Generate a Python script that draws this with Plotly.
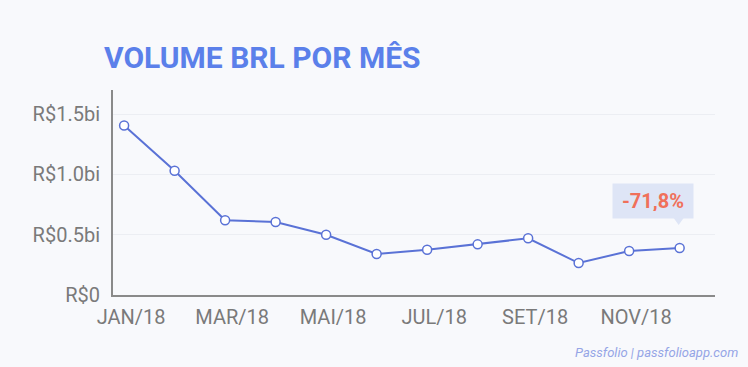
import plotly.graph_objects as go

months = ["JAN/18", "FEV/18", "MAR/18", "ABR/18", "MAI/18", "JUN/18",
          "JUL/18", "AGO/18", "SET/18", "OUT/18", "NOV/18", "DEZ/18"]
volume_bi = [1.405, 1.03, 0.62, 0.605, 0.50, 0.34, 0.375, 0.42, 0.47, 0.265, 0.365, 0.39]
y_tick_vals = [0, 0.5, 1.0, 1.5]
y_tick_text = ["R$0", "R$0.5bi", "R$1.0bi", "R$1.5bi"]
x_tick_idx = [0, 2, 4, 6, 8, 10]
change_label = "-71,8%"
title_text = "VOLUME BRL POR MÊS"
footer_text = "Passfolio | passfolioapp.com"

bg = "#F8F9FC"
xs = list(range(len(months)))

fig = go.Figure()
fig.add_trace(go.Scatter(
    x=xs, y=volume_bi, mode="lines+markers",
    line=dict(color="#5A72D6", width=2),
    marker=dict(size=9, color="white", line=dict(color="#5A72D6", width=1.5)),
    hoverinfo="skip", showlegend=False,
))

fig.update_layout(
    width=748, height=367,
    paper_bgcolor=bg, plot_bgcolor=bg,
    margin=dict(l=113, r=33, t=90, b=72),
    font=dict(family="Roboto", color="#777777", size=20),
    title=dict(text=title_text, x=104 / 748, xanchor="left", xref="container",
               y=1 - 57 / 367, yanchor="middle", yref="container",
               font=dict(family="Roboto", size=30, color="#5B80EA", weight="bold")),
    xaxis=dict(range=[-0.22, 11.7], tickvals=[xs[i] for i in x_tick_idx],
               ticktext=[months[i] for i in x_tick_idx],
               showgrid=False, zeroline=False, showline=True, linecolor="#8A8A8A",
               linewidth=2, ticks="", ticklabelshift=7, ticklabelstandoff=3,
               tickfont=dict(size=20, color="#7A7A7A")),
    yaxis=dict(range=[0, 1.70], tickvals=y_tick_vals, ticktext=y_tick_text,
               showgrid=True, gridcolor="#ECEEF3", gridwidth=1, zeroline=False,
               showline=True, linecolor="#8A8A8A", linewidth=2, ticks="",
               ticklabelstandoff=7, tickfont=dict(size=20, color="#7A7A7A")),
)

# change annotation with pointer
last_x, last_y = xs[-1], volume_bi[-1]
fig.add_annotation(x=last_x, y=last_y, xref="x", yref="y", text="<b>" + change_label + "</b>",
                   showarrow=False, xshift=-27, yshift=47,
                   font=dict(family="Roboto", size=20, color="#F0705A"),
                   bgcolor="#DEE5F6", borderpad=7, width=66, height=20)
fig.add_shape(type="path", xref="x", yref="y", xsizemode="pixel", ysizemode="pixel",
              xanchor=last_x, yanchor=last_y,
              path="M -6 30 L 4 30 L -1 23 Z", fillcolor="#DEE5F6", line=dict(width=0))

fig.add_annotation(x=(740 - 113) / 602, y=(295 - 352) / 205, xref="paper", yref="paper",
                   xanchor="right", yanchor="middle", showarrow=False,
                   text="<i>" + footer_text + "</i>",
                   font=dict(family="Roboto", size=13, color="#95A5E6"))

fig.write_html("out.html", config={"displayModeBar": False},
               post_script="document.body.style.margin='0';document.body.style.background='" + bg + "';")
